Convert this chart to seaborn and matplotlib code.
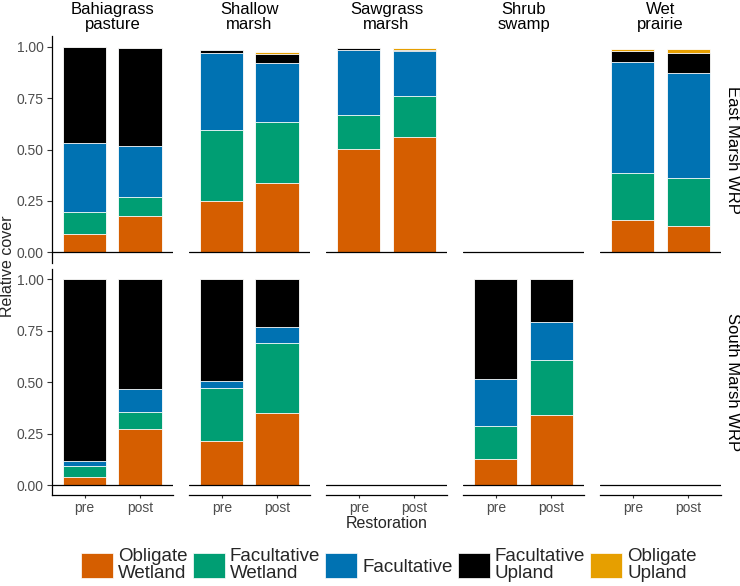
import numpy as np
import pandas as pd
import matplotlib
matplotlib.use("Agg")
import matplotlib.pyplot as plt
from matplotlib.patches import Patch
import seaborn as sns

# ---------------- data ----------------
sites = ["East Marsh WRP", "South Marsh WRP"]
habitats = ["Bahiagrass\npasture", "Shallow\nmarsh", "Sawgrass\nmarsh", "Shrub\nswamp", "Wet\nprairie"]
periods = ["pre", "post"]
classes = ["Obligate\nWetland", "Facultative\nWetland", "Facultative", "Facultative\nUpland", "Obligate\nUpland"]
class_colors = ["#D55E00", "#009E73", "#0072B2", "#000000", "#E69F00"]

# rows: (site, habitat, period) combinations that have data
row_site = ["East Marsh WRP"] * 8 + ["South Marsh WRP"] * 6
row_habitat = ["Bahiagrass\npasture", "Bahiagrass\npasture", "Shallow\nmarsh", "Shallow\nmarsh",
               "Sawgrass\nmarsh", "Sawgrass\nmarsh", "Wet\nprairie", "Wet\nprairie",
               "Bahiagrass\npasture", "Bahiagrass\npasture", "Shallow\nmarsh", "Shallow\nmarsh",
               "Shrub\nswamp", "Shrub\nswamp"]
row_period = ["pre", "post"] * 7

obligate_wetland    = [0.090, 0.177, 0.248, 0.339, 0.504, 0.559, 0.157, 0.129,
                       0.039, 0.271, 0.216, 0.350, 0.128, 0.339]
facultative_wetland = [0.105, 0.090, 0.345, 0.293, 0.164, 0.200, 0.227, 0.231,
                       0.055, 0.082, 0.256, 0.340, 0.157, 0.269]
facultative         = [0.335, 0.248, 0.375, 0.287, 0.316, 0.220, 0.540, 0.511,
                       0.024, 0.112, 0.034, 0.080, 0.230, 0.186]
facultative_upland  = [0.468, 0.477, 0.016, 0.045, 0.011, 0.006, 0.057, 0.100,
                       0.882, 0.535, 0.494, 0.230, 0.485, 0.206]
obligate_upland     = [0.000, 0.000, 0.000, 0.010, 0.000, 0.007, 0.008, 0.019,
                       0.000, 0.000, 0.000, 0.000, 0.000, 0.000]

y_ticks = [0.0, 0.25, 0.5, 0.75, 1.0]
y_ticklabels = ["0.00", "0.25", "0.50", "0.75", "1.00"]

df = pd.DataFrame({
    "site": row_site, "habitat": row_habitat, "period": row_period,
    classes[0]: obligate_wetland, classes[1]: facultative_wetland,
    classes[2]: facultative, classes[3]: facultative_upland, classes[4]: obligate_upland,
})
cum = df[classes].cumsum(axis=1)
for i, c in enumerate(classes):
    df["cum%d" % i] = cum[c]

# ---------------- style ----------------
sns.set_theme(style="white")
plt.rcParams["font.family"] = ["Liberation Sans", "DejaVu Sans"]

W, H = 740, 586
fig = plt.figure(figsize=(W / 100, H / 100), dpi=100)

def fx(px):
    return px / W

def fy(py):
    return 1 - py / H

col_left = [51.5 + i * 137.05 for i in range(5)]
pan_w = 121.7
row_top = [36.4, 269.0]
pan_h = 226.3
tick_gray = "#4D4D4D"

for r, site in enumerate(sites):
    for c, hab in enumerate(habitats):
        ax = fig.add_axes([fx(col_left[c]), fy(row_top[r] + pan_h), fx(pan_w), pan_h / H])
        sub = df[(df.site == site) & (df.habitat == hab)]
        if len(sub):
            for k in range(len(classes) - 1, -1, -1):
                sns.barplot(data=sub, x="period", y="cum%d" % k, order=periods,
                            color=class_colors[k], width=0.78, edgecolor="white",
                            linewidth=0.6, errorbar=None, saturation=1, ax=ax)
        ax.axhline(0, color="black", lw=0.9, zorder=5)
        ax.set_xlim(-0.6, 1.6)
        ax.set_ylim(-0.05, 1.05)
        ax.set_xlabel("")
        ax.set_ylabel("")
        ax.set_xticks([0, 1])
        ax.set_yticks(y_ticks)
        for s in ax.spines.values():
            s.set_visible(False)
        ax.tick_params(axis="both", colors="#333333", labelcolor=tick_gray,
                       labelsize=10, width=0.8)
        ax.tick_params(axis="y", length=3.5, pad=2.2)
        ax.tick_params(axis="x", length=2.5, pad=1.5)
        if c == 0:
            ax.spines["left"].set_visible(True)
            ax.spines["left"].set_color("black")
            ax.spines["left"].set_linewidth(0.9)
            ax.set_yticklabels(y_ticklabels)
            ax.tick_params(axis="y", left=True)
        else:
            ax.tick_params(axis="y", left=False, labelleft=False)
        if r == 1:
            ax.spines["bottom"].set_visible(True)
            ax.spines["bottom"].set_color("black")
            ax.spines["bottom"].set_linewidth(0.9)
            ax.set_xticklabels(periods)
            ax.tick_params(axis="x", bottom=True, labelbottom=True)
        else:
            ax.tick_params(axis="x", bottom=False, labelbottom=False)
        if r == 0:
            fig.text(fx(col_left[c] + pan_w / 2), fy(17), hab, ha="center", va="center",
                     fontsize=12, linespacing=0.95, color="black")
    fig.text(fx(732), fy(row_top[r] + pan_h / 2), site, rotation=-90, ha="center", va="center",
             fontsize=12, color="black")

fig.text(fx(8), fy(266), "Relative cover", rotation=90, ha="center", va="center", fontsize=11.5)
fig.text(fx(386.6), fy(523), "Restoration", ha="center", va="center", fontsize=11.5)

handles = [Patch(facecolor=col, edgecolor="white", linewidth=0.5) for col in class_colors]
leg = fig.legend(handles, classes, ncol=5, loc="center", bbox_to_anchor=(fx(389), fy(565)),
                 frameon=False, fontsize=13.5, handlelength=1.7, handleheight=1.65,
                 handletextpad=0.27, columnspacing=0.28, borderaxespad=0, borderpad=0)
for t in leg.get_texts():
    t.set_linespacing(0.95)

fig.savefig("out.png", dpi=100)
